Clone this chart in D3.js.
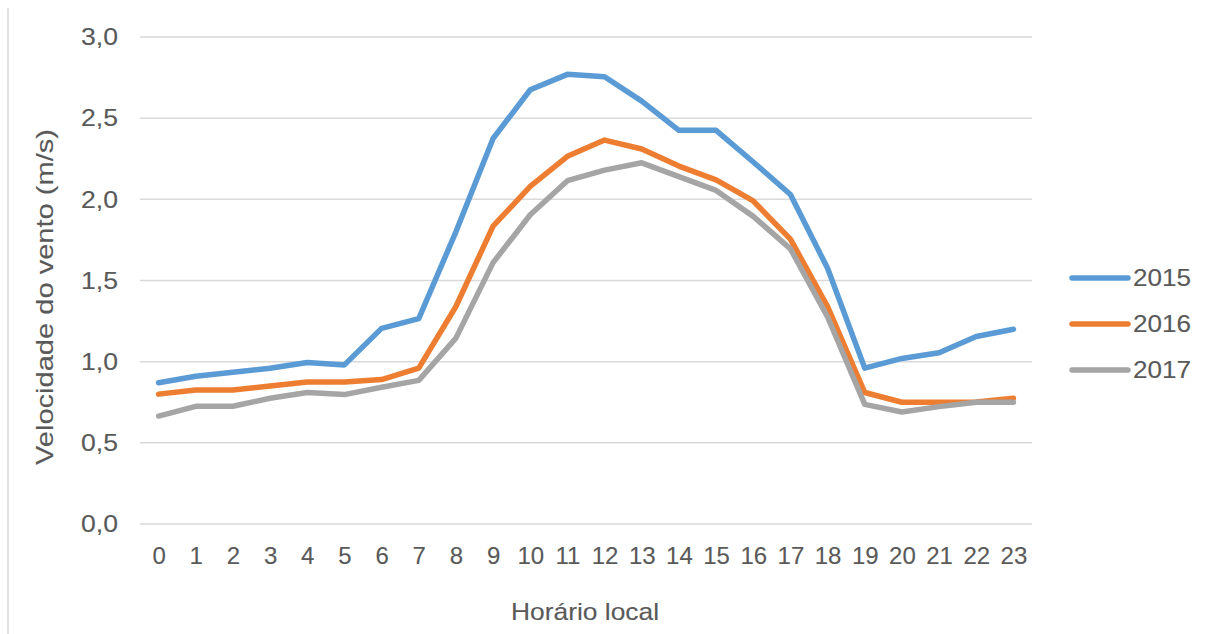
<!DOCTYPE html>
<html>
<head>
<meta charset="utf-8">
<script src="https://cdn.jsdelivr.net/npm/d3@7"></script>
<style>
  html, body { margin: 0; padding: 0; background: #fff; }
  svg { display: block; font-family: "Liberation Sans", Arial, sans-serif; }
  .lbl { fill: #595959; stroke: #595959; stroke-width: 0.12px; font-size: 24px; }
</style>
</head>
<body>
<svg id="chart" width="1216" height="634"></svg>
<script>
// Hourly mean wind speed (m/s) by local hour, one series per year
const hours = d3.range(0, 24).map(String);
const years = ["2015", "2016", "2017"];
const v2015 = [0.87, 0.91, 0.935, 0.96, 0.995, 0.98, 1.205, 1.265, 1.80, 2.375, 2.675, 2.77, 2.755, 2.605, 2.425, 2.425, 2.23, 2.03, 1.575, 0.96, 1.02, 1.055, 1.155, 1.20];
const v2016 = [0.80, 0.825, 0.825, 0.85, 0.875, 0.875, 0.89, 0.96, 1.34, 1.835, 2.08, 2.265, 2.365, 2.31, 2.205, 2.12, 1.99, 1.755, 1.34, 0.81, 0.75, 0.75, 0.752, 0.775];
const v2017 = [0.665, 0.725, 0.725, 0.775, 0.81, 0.797, 0.842, 0.885, 1.145, 1.61, 1.905, 2.115, 2.18, 2.225, 2.14, 2.055, 1.895, 1.695, 1.275, 0.737, 0.69, 0.723, 0.75, 0.75];
const yTicks = [0, 0.5, 1.0, 1.5, 2.0, 2.5, 3.0];

const seriesValues = [v2015, v2016, v2017];
const colors = ["#5B9BD5", "#ED7D31", "#A5A5A5"];
const FONT = "'Liberation Sans', Arial, sans-serif";

const svg = d3.select("#chart");

// outer chart frame edge on the left
svg.append("line")
  .attr("x1", 8).attr("x2", 8).attr("y1", 8).attr("y2", 634)
  .attr("stroke", "#d9d9d9").attr("stroke-width", 1.5);

const plot = { left: 140, right: 1032, top: 37, bottom: 524 };

const x = d3.scalePoint().domain(hours)
  .range([plot.left, plot.right]).padding(0.5);
const y = d3.scaleLinear().domain([0, 3]).range([plot.bottom, plot.top]);

// horizontal gridlines
svg.append("g").selectAll("line").data(yTicks).join("line")
  .attr("x1", plot.left).attr("x2", plot.right)
  .attr("y1", d => y(d)).attr("y2", d => y(d))
  .attr("stroke", "#d9d9d9").attr("stroke-width", 1.5);

// y axis labels (slightly widened glyphs)
const fmt = d => d3.format(".1f")(d).replace(".", ",");
const yAxis = svg.append("g")
  .attr("transform", `translate(${plot.left},0)`)
  .call(d3.axisLeft(y).tickValues(yTicks).tickFormat(fmt).tickSize(0).tickPadding(22));
yAxis.select(".domain").remove();
yAxis.selectAll("text")
  .attr("class", "lbl").attr("fill", null)
  .attr("textLength", 37).attr("lengthAdjust", "spacingAndGlyphs")
  .style("font-family", FONT);

// x axis labels
const xAxis = svg.append("g")
  .attr("transform", `translate(0,${plot.bottom})`)
  .call(d3.axisBottom(x).tickSize(0).tickPadding(23));
xAxis.select(".domain").remove();
xAxis.selectAll("text")
  .attr("class", "lbl").attr("fill", null)
  .style("font-family", FONT);

// axis titles
svg.append("text")
  .attr("class", "lbl")
  .attr("x", 585).attr("y", 620)
  .attr("text-anchor", "middle")
  .attr("textLength", 148).attr("lengthAdjust", "spacingAndGlyphs")
  .text("Horário local");

svg.append("text")
  .attr("class", "lbl")
  .attr("transform", "translate(53,297) rotate(-90)")
  .attr("text-anchor", "middle")
  .attr("textLength", 336).attr("lengthAdjust", "spacingAndGlyphs")
  .text("Velocidade do vento (m/s)");

// series lines
const line = d3.line()
  .x((d, i) => x(hours[i]))
  .y(d => y(d));

svg.append("g").selectAll("path").data(seriesValues).join("path")
  .attr("d", d => line(d))
  .attr("fill", "none")
  .attr("stroke", (d, i) => colors[i])
  .attr("stroke-width", 5.5)
  .attr("stroke-linejoin", "round")
  .attr("stroke-linecap", "round");

// legend
const legend = svg.append("g").selectAll("g").data(years).join("g")
  .attr("transform", (d, i) => `translate(1072,${278 + i * 46})`);
legend.append("line")
  .attr("x1", 0).attr("x2", 56).attr("y1", 0).attr("y2", 0)
  .attr("stroke", (d, i) => colors[i])
  .attr("stroke-width", 5.5).attr("stroke-linecap", "round");
legend.append("text")
  .attr("class", "lbl")
  .attr("x", 61).attr("y", 0).attr("dy", "0.35em")
  .attr("textLength", 58).attr("lengthAdjust", "spacingAndGlyphs")
  .text(d => d);
</script>
</body>
</html>
